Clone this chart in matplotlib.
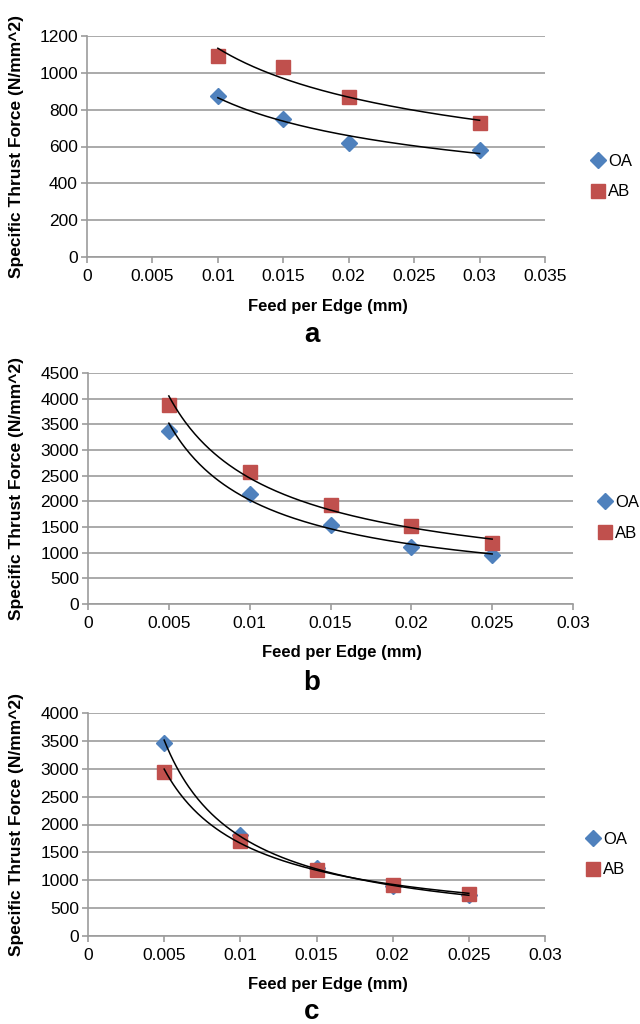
import numpy as np
import matplotlib
matplotlib.use("Agg")
import matplotlib.pyplot as plt

plt.rcParams['font.family'] = ['Liberation Sans', 'DejaVu Sans']

# Panel a
xa = [0.01, 0.015, 0.02, 0.03]
oa_a = [875, 750, 620, 580]
ab_a = [1090, 1030, 870, 725]
# Panel b
xb = [0.005, 0.01, 0.015, 0.02, 0.025]
oa_b = [3370, 2150, 1540, 1120, 950]
ab_b = [3870, 2580, 1920, 1510, 1180]
# Panel c
xc = [0.005, 0.01, 0.015, 0.02, 0.025]
oa_c = [3470, 1820, 1220, 890, 730]
ab_c = [2950, 1710, 1180, 920, 760]

panels = [
    dict(x=xa, oa=oa_a, ab=ab_a, xmax=0.035, xticks=[0, 0.005, 0.01, 0.015, 0.02, 0.025, 0.03, 0.035],
         ymax=1200, ystep=200, rect=(87, 36, 545, 257), leg=(590, 176.5), label='a',
         xl=(328, 307), lab_y=335),
    dict(x=xb, oa=oa_b, ab=ab_b, xmax=0.03, xticks=[0, 0.005, 0.01, 0.015, 0.02, 0.025, 0.03],
         ymax=4500, ystep=500, rect=(88, 373, 573, 604), leg=(597, 518), label='b',
         xl=(342, 652), lab_y=683),
    dict(x=xc, oa=oa_c, ab=ab_c, xmax=0.03, xticks=[0, 0.005, 0.01, 0.015, 0.02, 0.025, 0.03],
         ymax=4000, ystep=500, rect=(88, 713, 545, 936), leg=(585, 854.5), label='c',
         xl=(328, 985), lab_y=1012),
]

W, H = 640, 1024
fig = plt.figure(figsize=(W / 100, H / 100), dpi=100)
blue = '#4F81BD'
red = '#C0504D'
grid = '#9C9C9C'

def fmt(v):
    if v == 0:
        return '0'
    return ('%.3f' % v).rstrip('0')

for p in panels:
    l, t, r, b = p['rect']
    ax = fig.add_axes([l / W, 1 - b / H, (r - l) / W, (b - t) / H])
    x = np.array(p['x'])
    for ys, col, mk, ms, name in [(p['oa'], blue, 'D', 8.5, 'OA'), (p['ab'], red, 's', 10, 'AB')]:
        ys = np.array(ys, dtype=float)
        ax.plot(x, ys, linestyle='none', marker=mk, markersize=ms, color=col, label=name, zorder=3)
    for ys in (p['oa'], p['ab']):
        bcoef, acoef = np.polyfit(np.log(x), np.log(np.array(ys, dtype=float)), 1)
        xx = np.linspace(x[0], x[-1], 200)
        ax.plot(xx, np.exp(acoef) * xx ** bcoef, color='black', lw=1.1, zorder=4)
    ax.set_xlim(0, p['xmax'])
    ax.set_ylim(0, p['ymax'])
    ax.set_xticks(p['xticks'])
    ax.set_xticklabels([fmt(v) for v in p['xticks']])
    yt = np.arange(0, p['ymax'] + 1, p['ystep'])
    ax.set_yticks(yt)
    ax.set_yticklabels([str(int(v)) for v in yt])
    ax.grid(axis='y', color=grid, lw=1.2)
    ax.set_axisbelow(True)
    for s in ('top', 'right'):
        ax.spines[s].set_visible(False)
    for s in ('left', 'bottom'):
        ax.spines[s].set_color(grid)
        ax.spines[s].set_linewidth(1.2)
    ax.tick_params(axis='both', colors=grid, labelcolor='black', labelsize=12.5, length=4.5, width=1.2)
    ax.tick_params(axis='x', pad=4)
    ax.tick_params(axis='y', pad=2)
    ax.set_ylabel('Specific Thrust Force (N/mm^2)', fontsize=12.5, fontweight='bold')
    ax.yaxis.set_label_coords((24 - l) / (r - l), 0.5)
    fig.text(p['xl'][0] / W, 1 - p['xl'][1] / H, 'Feed per Edge (mm)', ha='center', va='center',
             fontsize=12, fontweight='bold')
    fig.text(312 / W, 1 - p['lab_y'] / H, p['label'], ha='center', va='center',
             fontsize=20, fontweight='bold')
    lx, ly = p['leg']
    ax.legend(loc='center left', bbox_to_anchor=((lx - l) / (r - l), (b - ly) / (b - t)),
              frameon=False, handlelength=0.9, handletextpad=0.2, labelspacing=0.95,
              borderpad=0, borderaxespad=0, fontsize=12, numpoints=1)

fig.savefig('out.png', dpi=100, facecolor='white')
